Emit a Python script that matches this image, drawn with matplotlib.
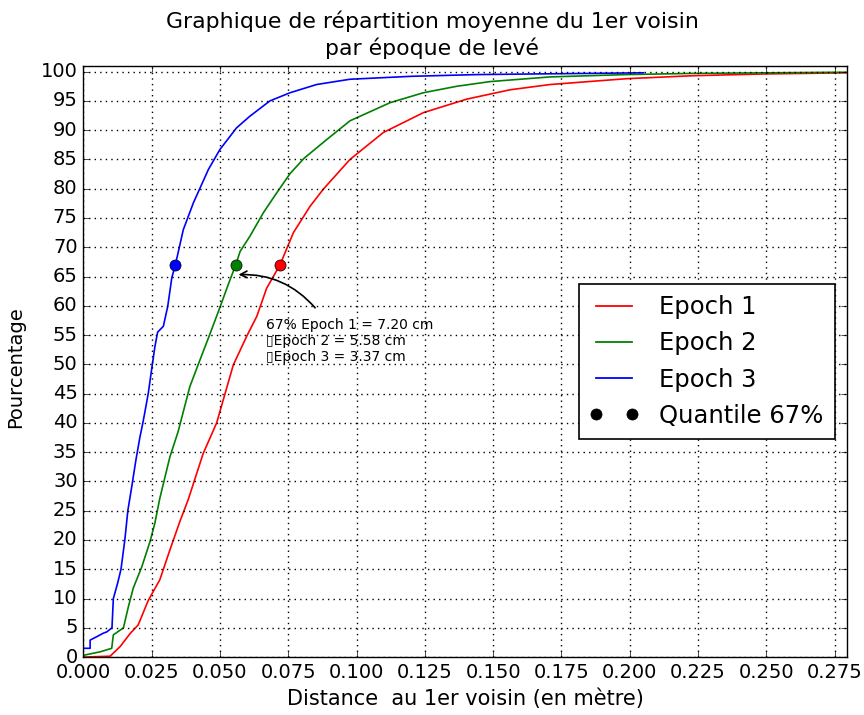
import matplotlib
matplotlib.use("Agg")
import matplotlib.pyplot as plt
from matplotlib.lines import Line2D
from matplotlib.legend_handler import HandlerLine2D

# --- data (distance in m, cumulative %) ---
e1_x = [0.0, 0.0098, 0.0135, 0.0171, 0.0201, 0.0238, 0.0280, 0.0317, 0.0353, 0.0384,
        0.0439, 0.0488, 0.0549, 0.0598, 0.0635, 0.0671, 0.0720, 0.0769, 0.0830, 0.0878,
        0.0976, 0.1098, 0.1245, 0.1403, 0.1562, 0.1709, 0.1990, 0.2230, 0.2488, 0.2794]
e1_y = [0.0, 0.15, 1.8, 4.0, 5.5, 9.7, 13.2, 18.3, 23.1, 26.9,
        34.8, 40.0, 49.9, 54.8, 58.2, 63.0, 67.0, 72.5, 77.0, 79.9,
        85.0, 89.6, 93.0, 95.3, 96.9, 97.8, 98.8, 99.3, 99.6, 99.8]

e2_x = [0.0, 0.0062, 0.0104, 0.0110, 0.0147, 0.0165, 0.0183, 0.0214, 0.0244, 0.0262,
        0.0280, 0.0317, 0.0347, 0.0390, 0.0420, 0.0462, 0.0499, 0.0535, 0.0558, 0.0574,
        0.0610, 0.0659, 0.0708, 0.0757, 0.0808, 0.0891, 0.0976, 0.1123, 0.1245, 0.1367,
        0.1489, 0.1709, 0.1990, 0.2230, 0.2794]
e2_y = [0.3, 0.9, 1.5, 3.8, 5.0, 8.6, 11.8, 15.4, 19.7, 22.9,
        27.1, 34.2, 38.5, 46.2, 49.9, 55.0, 59.6, 64.2, 67.0, 69.3,
        71.9, 75.9, 79.3, 82.6, 85.2, 88.4, 91.6, 94.7, 96.4, 97.5,
        98.3, 99.1, 99.5, 99.7, 99.9]

e3_x = [0.0, 0.0025, 0.0025, 0.0050, 0.0074, 0.0086, 0.0105, 0.0110, 0.0125, 0.0138,
        0.0152, 0.0163, 0.0177, 0.0192, 0.0207, 0.0218, 0.0226, 0.0238, 0.0250, 0.0262,
        0.0272, 0.0293, 0.0309, 0.0324, 0.0337, 0.0366, 0.0403, 0.0458, 0.0500, 0.0561,
        0.0610, 0.0683, 0.0757, 0.0854, 0.0976, 0.1200, 0.1445, 0.2050]
e3_y = [1.5, 1.5, 2.9, 3.5, 4.1, 4.3, 5.0, 10.0, 12.5, 15.0,
        20.0, 25.0, 29.0, 33.5, 37.5, 40.0, 42.0, 45.1, 49.1, 53.0,
        55.5, 56.5, 59.9, 64.8, 67.0, 73.0, 77.6, 83.3, 86.7, 90.4,
        92.4, 95.0, 96.4, 97.8, 98.7, 99.2, 99.5, 99.8]

q67_x = [0.0720, 0.0558, 0.0337]
q67_y = [67, 67, 67]

series_names = ["Epoch 1", "Epoch 2", "Epoch 3"]
series_colors = ["red", "green", "blue"]
quantile_label = "Quantile 67%"
annot_text = "67% Epoch 1 = 7.20 cm\n\u25afEpoch 2 = 5.58 cm\n\u25afEpoch 3 = 3.37 cm"

x_ticks = [i * 0.025 for i in range(12)]
y_ticks = list(range(0, 101, 5))

plt.style.use("classic")
plt.rcParams["lines.scale_dashes"] = False
fig = plt.figure(figsize=(8.64, 7.15), dpi=100, facecolor="white")
ax = fig.add_axes([0.0964, 0.081, 0.8836, 0.827])
ax.set_facecolor("white")

for xs, ys, c, n in zip([e1_x, e2_x, e3_x], [e1_y, e2_y, e3_y], series_colors, series_names):
    ax.plot(xs, ys, color=c, lw=1.2, label=n)

for xq, yq, c in zip(q67_x, q67_y, series_colors):
    ax.plot([xq], [yq], "o", color=c, markeredgecolor="black", markersize=8, zorder=5)

handles = [Line2D([], [], color=c, lw=1.3) for c in series_colors]
handles.append(Line2D([], [], ls="none", marker="o", color="black", markersize=8))
hmap = {h: HandlerLine2D(marker_pad=0, xpad=0.25) for h in handles}
leg = ax.legend(handles, series_names + [quantile_label], handler_map=hmap,
                loc="center right", bbox_to_anchor=(0.984, 0.5), borderaxespad=0,
                numpoints=2, fontsize=17.5, fancybox=False, framealpha=1,
                borderpad=0.45, labelspacing=0.5, handlelength=1.73,
                handletextpad=1.1)
leg.get_frame().set_edgecolor("black")
leg.get_frame().set_linewidth(1.2)

ax.text(0.067, 58.0, annot_text, fontsize=10, ha="left", va="top")
ax.annotate("", xy=(0.0558, 65.3), xytext=(0.0855, 59.3),
            arrowprops=dict(arrowstyle="->", color="black", lw=1.2,
                            connectionstyle="arc3,rad=0.25"))

ax.set_xlim(0, 0.2794)
ax.set_ylim(0, 101)
ax.set_xticks(x_ticks)
ax.set_xticklabels(["%.3f" % v for v in x_ticks])
ax.set_yticks(y_ticks)
ax.tick_params(labelsize=14, direction="in", top=True, right=True)
ax.grid(True, color="black", linestyle=(0, (1, 3)), linewidth=1.0)

ax.set_xlabel("Distance  au 1er voisin (en mètre)", fontsize=15)
ax.set_ylabel("Pourcentage", fontsize=14)
ax.yaxis.set_label_coords(-0.076, 0.49)
ax.set_title("Graphique de répartition moyenne du 1er voisin\npar époque de levé",
             fontsize=15.8, x=0.4568, linespacing=1.3, pad=8)

fig.savefig("out.png", dpi=100, facecolor="white")
